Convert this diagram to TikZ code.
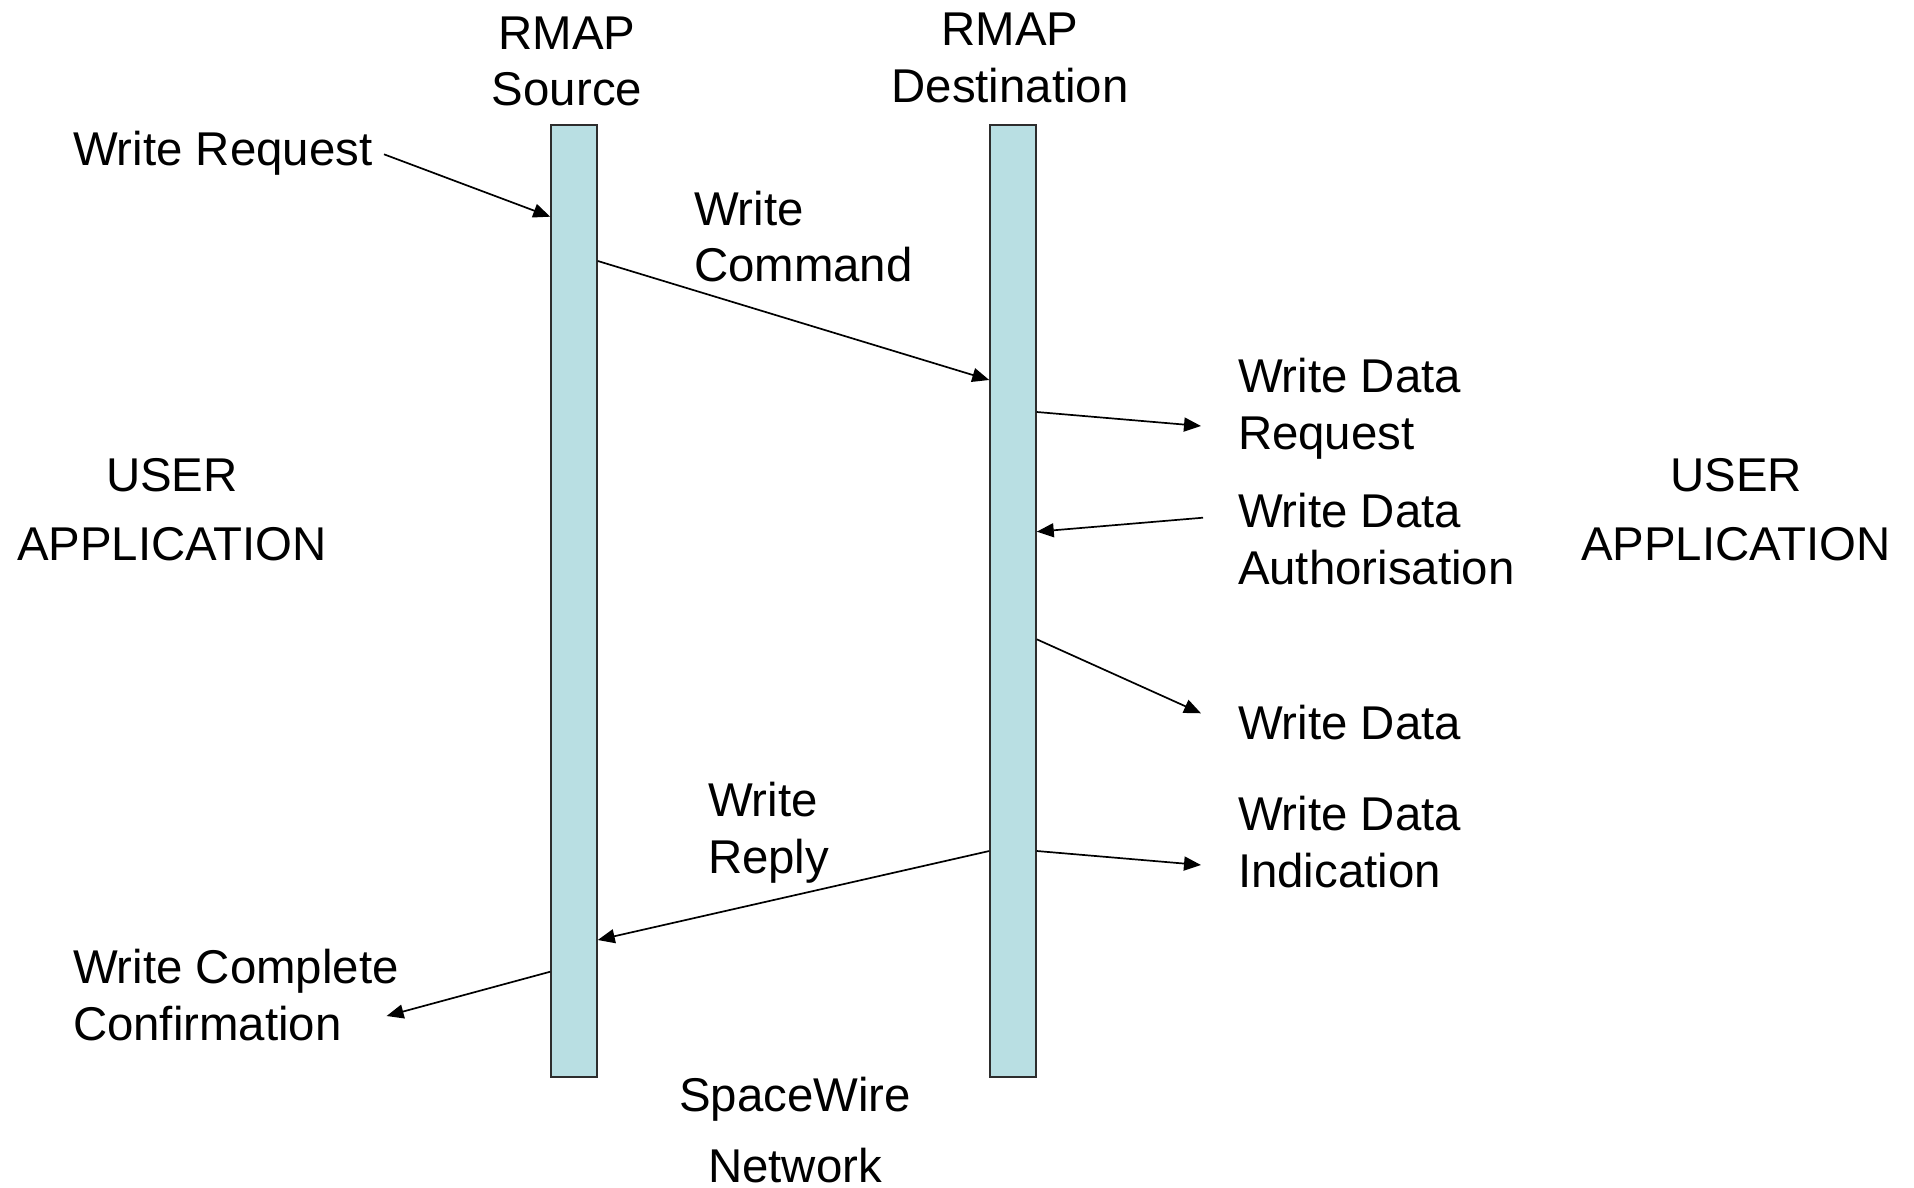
\documentclass[tikz,border=0pt]{standalone}
\usepackage{fontspec}
\setmainfont{Liberation Sans}
\usetikzlibrary{arrows.meta}
\definecolor{barfill}{RGB}{185,223,227}
\definecolor{barline}{RGB}{45,45,45}
\begin{document}
\begin{tikzpicture}[x=0.5pt, y=-0.5pt,
  lbl/.style={inner sep=0pt, outer sep=0pt, align=left, anchor=base west,
    font=\fontsize{23.7}{28.35}\selectfont},
  clbl/.style={lbl, align=center, anchor=base},
  bar/.style={draw=barline, line width=0.75pt, fill=barfill, inner sep=0pt,
    minimum width=23pt, minimum height=476pt},
  msg/.style={line width=0.85pt, -{Triangle[length=8.5pt, width=7pt]}}
]
% page area
\useasboundingbox[fill=white] (0,0) rectangle (1914,1187);

% lifelines
\node[bar] (src) at (574,601) {};
\node[bar] (dst) at (1013,601) {};

% headings (placed by the baseline of their last line)
\node[clbl] (srcname) at (567,106) {RMAP\\Source};
\node[clbl] (dstname) at (1010,102.7) {RMAP\\Destination};
\node[clbl] (userl) at (172,560) {USER\\[6.15pt]APPLICATION};
\node[clbl] (userr) at (1736,560) {USER\\[6.15pt]APPLICATION};
\node[clbl] (net) at (795,1182.7) {SpaceWire\\[7.15pt]Network};

% primitive labels
\node[lbl] (wreq) at (73,165.7) {Write Request};
\node[lbl] (wcmd) at (694,282) {Write\\Command};
\node[lbl] (wdreq) at (1238,449.3) {Write Data\\Request};
\node[lbl] (wdauth) at (1238,584.5) {Write Data\\Authorisation};
\node[lbl] (wdata) at (1238,739) {Write Data};
\node[lbl] (wdind) at (1238,887.5) {Write Data\\Indication};
\node[lbl] (wrep) at (708,873.3) {Write\\Reply};
\node[lbl] (wconf) at (73,1040) {Write Complete\\Confirmation};

% free ends of the service arrows
\coordinate (wreqend) at (384,154.3);
\coordinate (wdreqend) at (1201,426);
\coordinate (wdauthend) at (1203,517.7);
\coordinate (wdataend) at (1201,713.3);
\coordinate (wdindend) at (1201,865);
\coordinate (wconfend) at (386.6,1016);

% messages
\draw[msg] (wreqend) -- (src.west |- 0,216.7);
\draw[msg] (src.east |- 0,261) -- (dst.west |- 0,380);
\draw[msg] (dst.east |- 0,412) -- (wdreqend);
\draw[msg] (wdauthend) -- (dst.east |- 0,531.7);
\draw[msg] (dst.east |- 0,639.3) -- (wdataend);
\draw[msg] (dst.east |- 0,851) -- (wdindend);
\draw[msg] (dst.west |- 0,851) -- (src.east |- 0,940);
\draw[msg] (src.west |- 0,971.7) -- (wconfend);
\end{tikzpicture}
\end{document}
